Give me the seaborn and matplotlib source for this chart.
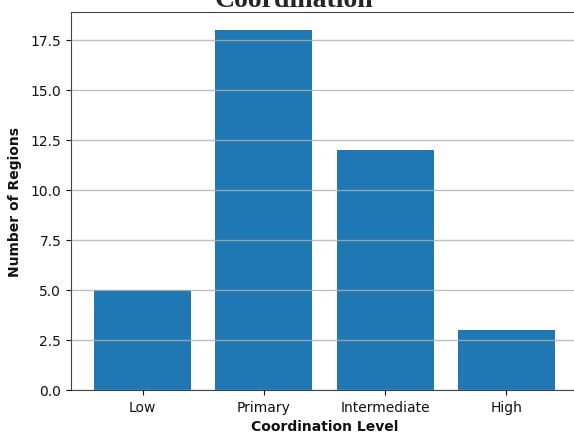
import seaborn as sns
import matplotlib.pyplot as plt
import pandas as pd

levels = ["Low", "Primary", "Intermediate", "High"]
counts = [5, 18, 12, 3]

df = pd.DataFrame({"Coordination Level": levels, "Number of Regions": counts})

sns.set_style("ticks")
plt.rcParams["font.family"] = ["DejaVu Sans"]

fig = plt.figure(figsize=(5.74, 4.35), dpi=100)
ax = fig.add_axes([71 / 574, 44 / 435, 507 / 574, 378 / 435])

sns.barplot(data=df, x="Coordination Level", y="Number of Regions",
            color="#1f77b4", saturation=1, width=0.8, linewidth=0, ax=ax)

ax.set_xlim(-0.59, 3.59)
ax.set_ylim(0, 18.9)
ax.set_yticks([0, 2.5, 5, 7.5, 10, 12.5, 15, 17.5])
ax.set_yticklabels(["0.0", "2.5", "5.0", "7.5", "10.0", "12.5", "15.0", "17.5"])
ax.tick_params(labelsize=10, colors="#111111")
ax.yaxis.grid(True, color="#b0b0b0", alpha=0.8, linewidth=1)
ax.set_axisbelow(False)
for s in ax.spines.values():
    s.set_color("#444444")
ax.set_xlabel("Coordination Level", fontsize=10, fontweight="bold", color="#111111")
ax.set_ylabel("Number of Regions", fontsize=10, fontweight="bold", color="#111111",
              labelpad=6)

fig.text(294 / 574, 1 - 7 / 435, "Coordination", ha="center", va="baseline",
         fontsize=20, fontweight="bold", family=["Liberation Serif"])

plt.savefig("out.png", dpi=100)
